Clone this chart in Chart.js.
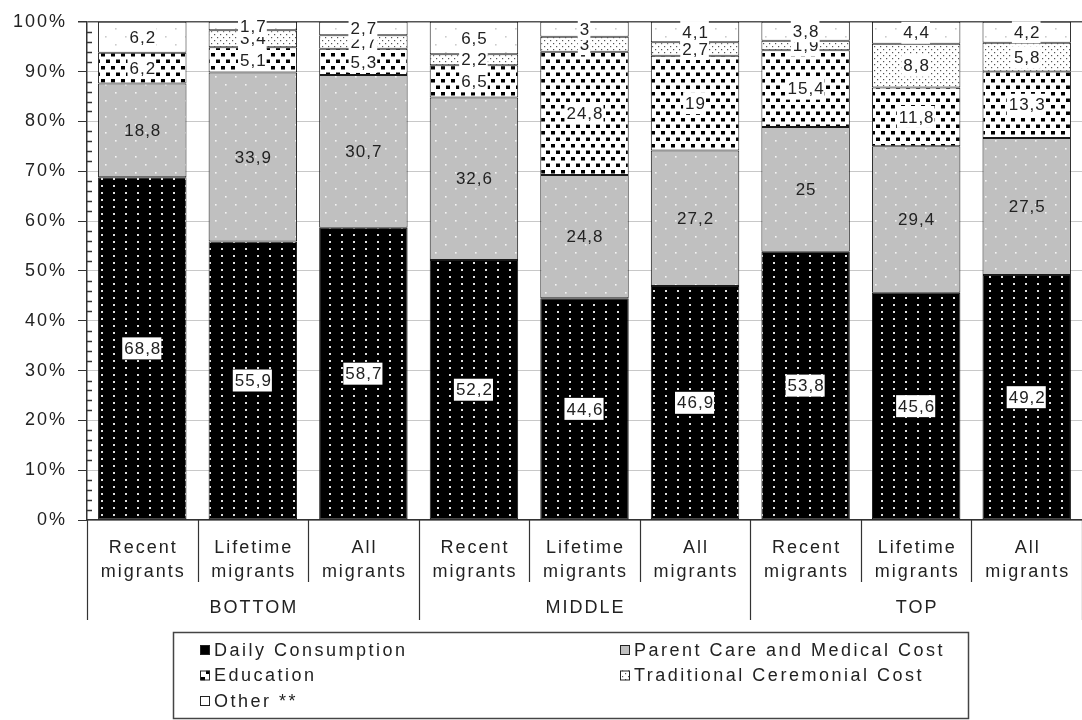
<!DOCTYPE html>
<html>
<head>
<meta charset="utf-8">
<script src="https://cdn.jsdelivr.net/npm/chart.js"></script>
<style>
  html, body { margin: 0; padding: 0; background: #fff; }
  #wrap { width: 1082px; height: 720px; }
</style>
</head>
<body>
<div id="wrap"><canvas id="chart" width="1082" height="720"></canvas></div>
<script>
// categories and groups
const categories = [
    ['Recent', 'migrants'], ['Lifetime', 'migrants'], ['All', 'migrants'],
    ['Recent', 'migrants'], ['Lifetime', 'migrants'], ['All', 'migrants'],
    ['Recent', 'migrants'], ['Lifetime', 'migrants'], ['All', 'migrants']
];
const groups = ['BOTTOM', 'MIDDLE', 'TOP'];

// series (percent of remittance use)
const seriesNames = ['Daily Consumption', 'Parent Care and Medical Cost', 'Education', 'Traditional Ceremonial Cost', 'Other **'];
const dailyConsumption = [68.8, 55.9, 58.7, 52.2, 44.6, 46.9, 53.8, 45.6, 49.2];
const parentCare       = [18.8, 33.9, 30.7, 32.6, 24.8, 27.2, 25, 29.4, 27.5];
const education        = [6.2, 5.1, 5.3, 6.5, 24.8, 19, 15.4, 11.8, 13.3];
const ceremonial       = [0, 3.4, 2.7, 2.2, 3, 2.7, 1.9, 8.8, 5.8];
const other            = [6.2, 1.7, 2.7, 6.5, 3, 4.1, 3.8, 4.4, 4.2];

const yTicks = [0, 10, 20, 30, 40, 50, 60, 70, 80, 90, 100];

const FONT = '"Liberation Sans", Arial, sans-serif';
const TEXT = '#222';

// hatch-like fills
function makePattern(w, h, bg, fg, marks) {
    const c = document.createElement('canvas');
    c.width = w; c.height = h;
    const g = c.getContext('2d');
    g.fillStyle = bg;
    g.fillRect(0, 0, w, h);
    g.fillStyle = fg;
    marks.forEach(m => g.fillRect(m[0], m[1], m[2], m[3]));
    return g.createPattern(c, 'repeat');
}

const ctx = document.getElementById('chart').getContext('2d');

const fills = [
    makePattern(12, 7, '#000', '#e0e0e0', [[5, 3, 2, 2]]),
    makePattern(20, 16, '#c0c0c0', '#f4f4f4', [[5, 4, 1.6, 1.6], [15, 12, 1.6, 1.6]]),
    makePattern(10, 13, '#fff', '#000', [[1, 1, 4, 3.5], [6, 7.5, 4, 3.5]]),
    makePattern(6, 6, '#fff', '#555', [[1, 1, 1.2, 1.2], [4, 4, 1.2, 1.2]]),
    makePattern(20, 16, '#fff', '#cccccc', [[5, 4, 1.6, 1.6], [15, 12, 1.6, 1.6]])
];

const rawSeries = [dailyConsumption, parentCare, education, ceremonial, other];
const totals = categories.map((c, i) => rawSeries.reduce((s, arr) => s + arr[i], 0));

const datasets = rawSeries.map((arr, k) => ({
    label: seriesNames[k],
    data: arr.map((v, i) => v / totals[i] * 100),
    raw: arr,
    labelBox: k !== 1,
    backgroundColor: fills[k],
    borderColor: '#1a1a1a',
    borderWidth: 1,
    borderSkipped: false,
    barPercentage: 0.8,
    categoryPercentage: 1
}));

// text spacing like the original export
const spacing = {
    id: 'spacing',
    beforeDraw(chart) {
        chart.ctx.letterSpacing = '2px';
    }
};

const valueLabels = {
    id: 'valueLabels',
    afterDatasetsDraw(chart) {
        const c = chart.ctx;
        c.save();
        c.font = '17px ' + FONT;
        c.letterSpacing = '1px';
        c.textAlign = 'center';
        c.textBaseline = 'middle';
        chart.data.datasets.forEach((ds, di) => {
            chart.getDatasetMeta(di).data.forEach((bar, i) => {
                const v = ds.raw[i];
                if (!v) return;
                const y = (bar.y + bar.base) / 2;
                const text = String(v).replace('.', ',');
                const w = c.measureText(text).width;
                if (ds.labelBox) {
                    c.fillStyle = '#fff';
                    c.fillRect(bar.x - w / 2 - 1.5, y - 11, w + 2, 22);
                }
                c.fillStyle = TEXT;
                c.fillText(text, bar.x + 0.5, y + 1);
            });
        });
        c.restore();
    }
};

const axisExtras = {
    id: 'axisExtras',
    afterDraw(chart) {
        const c = chart.ctx;
        const area = chart.chartArea;
        const xs = chart.scales.x;
        const ys = chart.scales.y;
        c.save();
        c.strokeStyle = '#333';
        c.lineWidth = 1.5;

        // minor ticks every 2%
        for (let v = 0; v <= 100; v += 2) {
            if (v % 10 === 0) continue;
            const y = Math.round(ys.getPixelForValue(v)) + 0.5;
            c.beginPath();
            c.moveTo(area.left, y);
            c.lineTo(area.left + 5, y);
            c.stroke();
        }

        // separators under the axis
        c.lineWidth = 1.2;
        const step = xs.getPixelForValue(1) - xs.getPixelForValue(0);
        for (let i = 0; i <= categories.length; i++) {
            const x = Math.round(xs.getPixelForValue(i) - step / 2) + 0.5;
            const len = i % 3 === 0 ? 100 : 62;
            c.beginPath();
            c.moveTo(x, area.bottom);
            c.lineTo(x, area.bottom + len);
            c.stroke();
        }

        // category labels
        c.font = '18px ' + FONT;
        c.letterSpacing = '2px';
        c.fillStyle = TEXT;
        c.textAlign = 'center';
        c.textBaseline = 'middle';
        categories.forEach((lines, i) => {
            const x = xs.getPixelForValue(i) + 1;
            lines.forEach((t, j) => c.fillText(t, x, area.bottom + 28 + j * 24));
        });
        groups.forEach((g, k) => {
            const x = xs.getPixelForValue(k * 3 + 1) + 1;
            c.fillText(g, x, area.bottom + 88);
        });

        // legend box
        c.lineWidth = 1.5;
        c.strokeStyle = '#444';
        c.strokeRect(173.5, 632.5, 795, 86);
        c.font = '18px ' + FONT;
        c.letterSpacing = '2.5px';
        c.textAlign = 'left';
        const cols = [200, 620];
        chart.data.datasets.forEach((ds, k) => {
            const x = cols[k % 2];
            const y = 650 + Math.floor(k / 2) * 25.5;
            c.fillStyle = ds.backgroundColor;
            c.fillRect(x, y - 5, 10, 10);
            c.lineWidth = 1;
            c.strokeStyle = '#222';
            c.strokeRect(x + 0.5, y - 4.5, 9, 9);
            c.fillStyle = TEXT;
            c.fillText(ds.label, x + 14, y + 1);
        });
        c.restore();
    }
};

new Chart(ctx, {
    type: 'bar',
    data: { labels: categories.map(l => l.join(' ')), datasets: datasets },
    options: {
        responsive: false,
        animation: false,
        layout: { padding: { top: 15, right: 0, bottom: 200, left: 0 } },
        plugins: {
            legend: { display: false },
            tooltip: { enabled: false }
        },
        scales: {
            x: {
                stacked: true,
                ticks: { display: false },
                grid: { display: false },
                border: { color: '#333', width: 1.5 },
                afterFit: s => { s.height = 0; }
            },
            y: {
                stacked: true,
                min: 0,
                max: 100,
                afterBuildTicks: s => { s.ticks = yTicks.map(v => ({ value: v })); },
                ticks: {
                    callback: v => v + '%',
                    font: { family: FONT, size: 18 },
                    color: TEXT,
                    padding: 11
                },
                grid: {
                    color: c => c.tick && c.tick.value === 100 ? '#555' : '#c8c8c8',
                    tickColor: '#333',
                    tickLength: 9,
                    lineWidth: c => c.tick && c.tick.value === 100 ? 1.5 : 1
                },
                border: { color: '#333', width: 1.5 },
                afterFit: s => { s.width = 87; }
            }
        }
    },
    plugins: [spacing, valueLabels, axisExtras]
});
</script>
</body>
</html>
